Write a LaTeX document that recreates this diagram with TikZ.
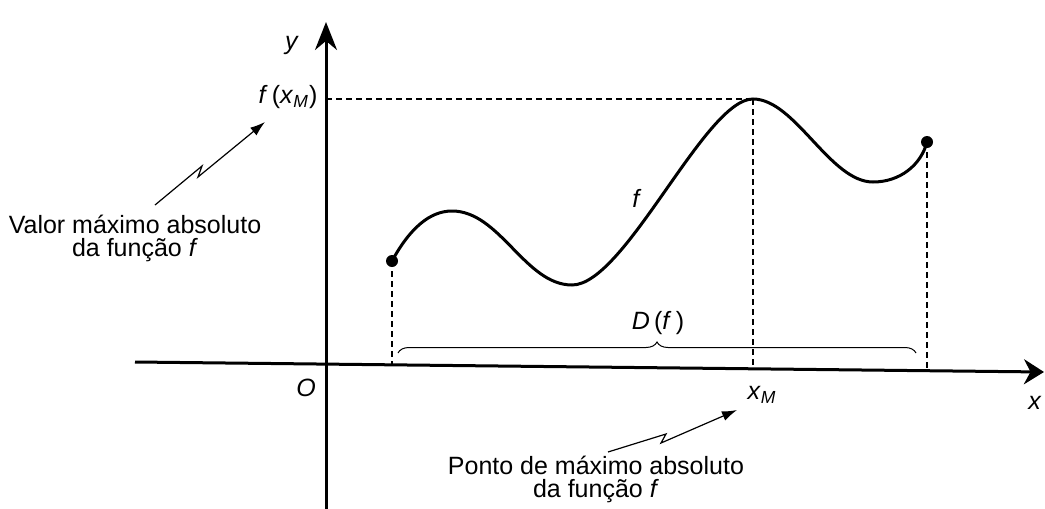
\documentclass[tikz,border=0pt]{standalone}
\usepackage{fontspec}
\setmainfont{Liberation Sans}
\usetikzlibrary{arrows.meta,decorations.pathreplacing}
\begin{document}
\begin{tikzpicture}[x=0.5pt,y=-0.5pt,
 axisline/.style={line width=1.5pt},
 guide/.style={line width=0.7pt,dash pattern=on 3pt off 2pt},
 curveline/.style={line width=1.5pt,line cap=round},
 pointer/.style={line width=0.6pt,line join=miter,-{Latex[length=7.5pt,width=5pt]}},
 lbl/.style={font=\fontsize{12.5}{11.5}\selectfont,inner sep=0pt},
 desc/.style={lbl,align=center},
 dot/.style={circle,fill,inner sep=0pt,minimum size=6pt}]
\useasboundingbox (0,0) rectangle (1045,509);
% axes
\coordinate (ybot) at (326,509);
\coordinate (ytop) at (326,22);
\coordinate (xl) at (135,362);
\coordinate (xr) at (1044,372);
\draw[axisline,-{Stealth[length=14pt,width=11pt]}] (ybot) -- (ytop);
\draw[axisline,-{Stealth[length=10pt,width=12.5pt]}] (xl) -- (xr);
% curve points
\node[dot] (P0) at (392,261) {};
\coordinate (M1) at (452,211);
\coordinate (N1) at (572,285);
\coordinate (M2) at (753,99);
\coordinate (N2) at (873,182);
\node[dot] (P1) at (927,142) {};
\draw[curveline] (P0.center) .. controls (410,228) and (430,211) .. (M1)
  .. controls (500,211) and (525,285) .. (N1)
  .. controls (625,285) and (705,99) .. (M2)
  .. controls (795,99) and (830,182) .. (N2)
  .. controls (900,182) and (921,165) .. (P1.center);
% guides
\coordinate (yM) at (326,99);
\coordinate (f0) at (392,365);
\coordinate (fM) at (753,369);
\coordinate (f1) at (927,371);
\draw[guide] (yM) -- (M2);
\draw[guide] (P0.center) -- (f0);
\draw[guide] (M2) -- (fM);
\draw[guide] (P1.center) -- (f1);
% brace
\coordinate (b0) at (398,353);
\coordinate (b1) at (916,353);
\draw[line width=0.5pt,decorate,decoration={brace,amplitude=5.5pt}] (b0) -- (b1);
% labels
\node[lbl] (ylab) at (292,45) {\textit{y}};
\node[lbl] (fxm) at (288,97) {\textit{f}\,(\textit{x}\textsubscript{\textit{M}})};
\node[lbl] (Olab) at (306,388) {\textit{O}};
\node[lbl] (xM) at (762,395) {\textit{x}\textsubscript{\textit{M}}};
\node[lbl] (xlab) at (1035,403) {\textit{x}};
\node[lbl] (Df) at (658,323) {\textit{D}\,(\textit{f}\,)};
\node[lbl] (flab) at (637,198) {\textit{f}};
\node[desc] (valor) at (135,238) {Valor máximo absoluto\\da função \textit{f}};
\node[desc] (ponto) at (596,479) {Ponto de máximo absoluto\\da função \textit{f}};
% pointers
\coordinate (a1s) at (155,205);
\coordinate (a1a) at (202,166);
\coordinate (a1b) at (198,177);
\coordinate (a1e) at (265,122);
\draw[pointer] (a1s) -- (a1a) -- (a1b) -- (a1e);
\coordinate (a2s) at (608,452);
\coordinate (a2a) at (666,434);
\coordinate (a2b) at (661,443);
\coordinate (a2e) at (737,410);
\draw[pointer] (a2s) -- (a2a) -- (a2b) -- (a2e);
\end{tikzpicture}
\end{document}
